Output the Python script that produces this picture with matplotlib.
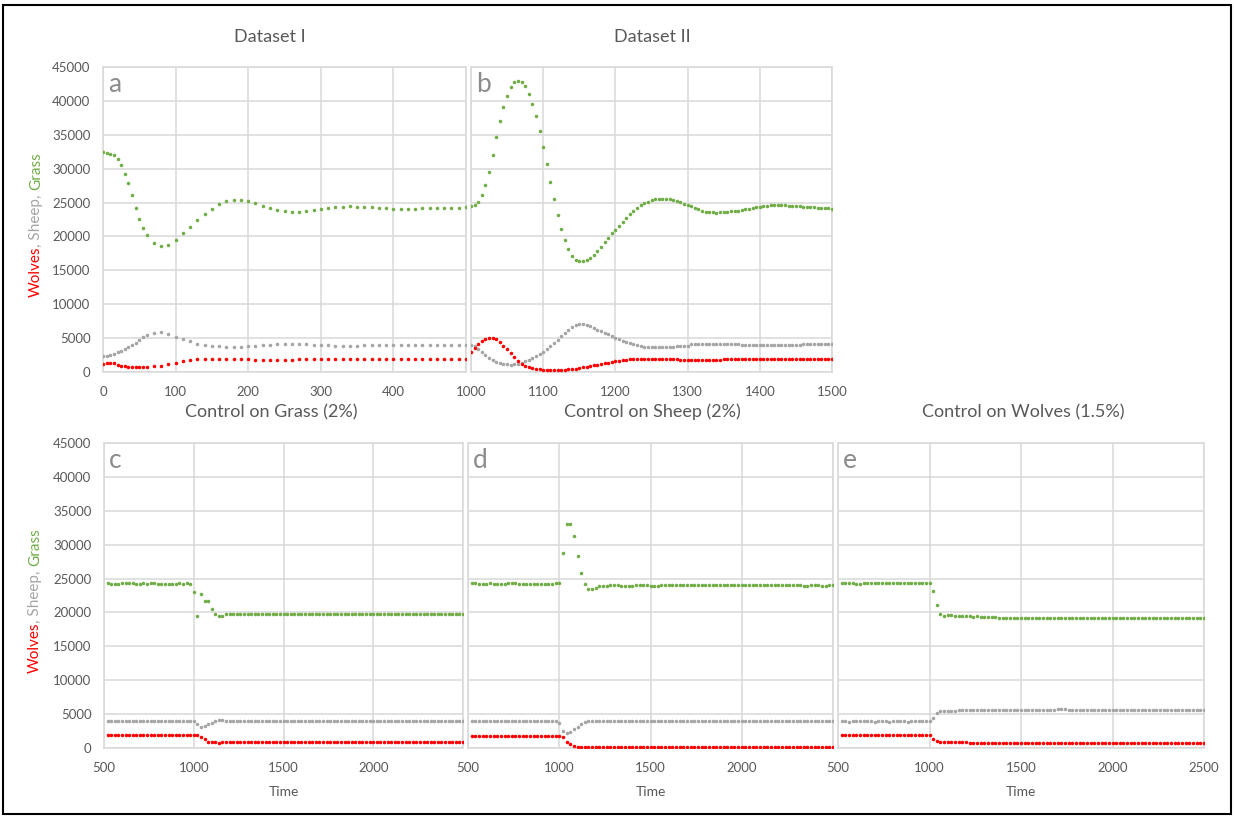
import matplotlib
matplotlib.use("Agg")
import matplotlib.pyplot as plt
from matplotlib.patches import Rectangle

plt.rcParams['font.family'] = ['Lato', 'DejaVu Sans']

# ---------------- data ----------------
# Dataset I (panel a)
t_a = [0, 5, 10, 15, 20, 25, 30, 35, 40, 45, 50, 55, 60,
       70, 80, 90, 100, 110, 120, 130, 140, 150, 160,
       170, 180, 190, 200, 210, 220, 230, 240, 250, 260,
       270, 280, 290, 300, 310, 320, 330, 340, 350, 360,
       370, 380, 390, 400, 410, 420, 430, 440, 450, 460,
       470, 480, 490, 500]
grass_a = [32470, 32320, 32230, 32080, 31490, 30500, 29270, 27900, 26080, 24260, 22630, 21300, 20170,
           19040, 18550, 18800, 19530, 20520, 21400, 22390, 23320, 24060, 24750,
           25190, 25340, 25440, 25190, 24940, 24550, 24260, 23910, 23710, 23670,
           23670, 23760, 23860, 24060, 24210, 24350, 24400, 24450, 24400, 24400,
           24300, 24260, 24160, 24110, 24060, 24060, 24110, 24160, 24160, 24210,
           24210, 24260, 24260, 24300]
sheep_a = [2360, 2410, 2510, 2700, 2900, 3100, 3340, 3640, 3980, 4330, 4720, 5110, 5410,
           5750, 5850, 5610, 5210, 4870, 4520, 4180, 4030, 3880, 3790,
           3740, 3740, 3740, 3790, 3835, 3930, 3980, 4080, 4080, 4080,
           4080, 4080, 3935, 3935, 3935, 3880, 3880, 3880, 3880, 3935,
           3980, 3980, 3980, 3980, 3980, 3980, 3980, 3980, 3980, 3980,
           3980, 3980, 3980, 3980]
wolves_a = [1230, 1380, 1380, 1280, 1080, 930, 835, 740, 740, 740, 740, 740, 740,
            835, 930, 1130, 1380, 1570, 1820, 1920, 1970, 1970, 1970,
            1970, 1970, 1920, 1870, 1770, 1770, 1770, 1770, 1780, 1800,
            1870, 1870, 1870, 1870, 1870, 1870, 1870, 1870, 1870, 1870,
            1870, 1870, 1870, 1870, 1870, 1870, 1870, 1870, 1870, 1870,
            1870, 1870, 1870, 1870]

# Dataset II (panel b), one sample every 5 time steps
t_b = list(range(1000, 1501, 5))
grass_b = [24440, 24580, 25075, 26100, 27580, 29550, 32000, 34660, 37070, 39140,
           40760, 42000, 42780, 42970, 42820, 42190, 41060, 39580, 37760, 35550,
           33140, 30630, 27980, 25470, 23110, 21050, 19420, 18100, 17110, 16520,
           16320, 16320, 16520, 16815, 17260, 17850, 18490, 19175, 19810, 20450,
           20945, 21580, 22125, 22715, 23255, 23700, 24190, 24590, 24880, 25075,
           25370, 25470, 25520, 25570, 25570, 25520, 25320, 25170, 25030, 24830,
           24630, 24440, 24190, 24000, 23800, 23650, 23600, 23600, 23500, 23650,
           23650, 23650, 23700, 23750, 23750, 23900, 24000, 24100, 24190, 24290,
           24340, 24440, 24540, 24590, 24630, 24630, 24630, 24590, 24540, 24540,
           24490, 24440, 24390, 24340, 24340, 24290, 24240, 24190, 24190, 24190,
           24100]
sheep_b = [4030, 3835, 3390, 2900, 2460, 2115, 1820, 1520, 1330, 1180,
           1130, 1080, 1130, 1230, 1380, 1570, 1770, 2065, 2360, 2655,
           2950, 3340, 3785, 4280, 4770, 5260, 5750, 6245, 6640, 6930,
           7030, 7030, 6930, 6740, 6490, 6245, 6000, 5800, 5560, 5310,
           5065, 4820, 4620, 4425, 4230, 4080, 3935, 3835, 3740, 3690,
           3640, 3640, 3640, 3640, 3640, 3640, 3640, 3835, 3835, 3835,
           3835, 4080, 4080, 4080, 4080, 4080, 4080, 4080, 4080, 4080,
           4080, 4080, 4080, 4080, 4080, 3935, 3935, 3935, 3935, 3935,
           3935, 3935, 3935, 3935, 3935, 3935, 3935, 3935, 3935, 3935,
           3935, 3935, 4080, 4080, 4080, 4080, 4080, 4080, 4080, 4080,
           4080]
wolves_b = [2950, 3590, 4180, 4620, 4920, 5060, 5060, 4820, 4380, 3880,
            3340, 2750, 2160, 1620, 1230, 930, 690, 540, 440, 390,
            340, 340, 300, 300, 300, 300, 340, 390, 440, 490,
            590, 690, 790, 890, 980, 1080, 1180, 1280, 1380, 1475,
            1570, 1670, 1770, 1820, 1920, 1970, 1970, 1970, 1970, 1970,
            1970, 1970, 1970, 1970, 1870, 1870, 1870, 1870, 1720, 1720,
            1720, 1720, 1720, 1720, 1720, 1720, 1720, 1720, 1720, 1720,
            1870, 1870, 1870, 1870, 1870, 1870, 1870, 1870, 1870, 1870,
            1870, 1870, 1870, 1870, 1870, 1870, 1870, 1870, 1870, 1870,
            1870, 1870, 1870, 1870, 1870, 1870, 1870, 1870, 1870, 1870,
            1870]

# control runs (panels c, d, e), one sample every 20 time steps
t_ctrl = list(range(520, 2501, 20))

grass_c = [24290, 24190, 24140, 24190, 24290, 24290, 24290, 24290, 24240, 24240,
           24290, 24140, 24290, 24290, 24240, 24190, 24190, 24140, 24190, 24240,
           24290, 24140, 24290, 24240,
           23010, 19520, 22770, 21730, 21630, 20500, 19770, 19470, 19520, 19720,
           19770, 19820, 19820, 19820, 19770, 19770, 19770, 19770, 19820, 19820,
           19770, 19770, 19820, 19820, 19770, 19770, 19770, 19820, 19770, 19770,
           19770, 19770, 19770, 19820, 19770, 19770, 19770, 19770, 19820, 19770,
           19770, 19820, 19770, 19770, 19770, 19770, 19770, 19820, 19770, 19770,
           19720, 19770, 19770, 19820, 19770, 19770, 19820, 19770, 19720, 19770,
           19770, 19820, 19770, 19770, 19770, 19770, 19770, 19770, 19770, 19770,
           19770, 19770, 19770, 19770, 19770, 19820]
sheep_c = [3930, 3930, 3930, 3930, 3930, 3930, 3930, 3930, 3930, 3930,
           3930, 3930, 3930, 3930, 3930, 3930, 3930, 3930, 3930, 3930,
           3930, 3930, 3930, 3930,
           3930, 3540, 3150, 3295, 3540, 3740, 3980, 4080, 4080, 3930,
           3930, 3930, 3930, 3930, 3930, 3930, 3930, 3930, 3930, 3930,
           3930, 3930, 3930, 3930, 3930, 3930, 3930, 3930, 3930, 3930,
           3930, 3930, 3930, 3930, 3930, 3930, 3930, 3930, 3930, 3930,
           3930, 3930, 3930, 3930, 3930, 3930, 3930, 3930, 3930, 3930,
           3930, 3930, 3930, 3930, 3930, 3930, 3930, 3930, 3930, 3930,
           3930, 3930, 3930, 3930, 3930, 3930, 3930, 3930, 3930, 3930,
           3930, 3930, 3930, 3930, 3930, 3930]
wolves_c = [1870, 1870, 1870, 1870, 1870, 1870, 1870, 1870, 1870, 1870,
            1870, 1870, 1870, 1870, 1870, 1870, 1870, 1870, 1870, 1870,
            1870, 1870, 1870, 1870,
            1870, 1870, 1570, 1280, 935, 835, 835, 740, 835, 860,
            860, 860, 860, 860, 860, 860, 860, 860, 860, 860,
            860, 860, 860, 860, 860, 860, 860, 860, 860, 860,
            860, 860, 860, 860, 860, 860, 860, 860, 860, 860,
            860, 860, 860, 860, 860, 860, 860, 860, 860, 860,
            860, 860, 860, 860, 860, 860, 860, 860, 860, 860,
            860, 860, 860, 860, 860, 860, 860, 860, 860, 860,
            860, 860, 860, 860, 860, 860]

grass_d = [24290, 24340, 24190, 24190, 24240, 24290, 24240, 24240, 24190, 24240,
           24290, 24340, 24290, 24240, 24240, 24240, 24240, 24240, 24240, 24240,
           24240, 24240, 24240, 24290,
           24290, 28810, 33090, 33090, 31320, 28370, 25860, 24190, 23500, 23500,
           23650, 23850, 23950,
           23950, 24000, 24040, 24000, 23950, 23950, 23950, 23950, 24000, 24040,
           24040, 24000, 23950, 23950, 23950, 24000, 24000, 24000, 24000, 24000,
           24000, 24000, 24000, 24000, 24000, 24000, 24000, 24000, 24040, 24000,
           24000, 24000, 24000, 24000, 24000, 24000, 24000, 24000, 24000, 24000,
           24000, 24000, 24000, 24000, 24000, 24000, 24000, 24000, 24000, 24040,
           24000, 24000, 24000, 24000, 23950, 23950, 24000, 24000, 24000, 23950,
           23950, 24000, 24000]
sheep_d = [3930, 3930, 3930, 3930, 3930, 3930, 3930, 3930, 3930, 3930,
           3930, 3930, 3930, 3930, 3930, 3930, 3930, 3930, 3930, 3930,
           3930, 3930, 3930, 3930,
           3740, 2560, 2160, 2360, 2750, 3050, 3490, 3835, 4030, 4030, 4030,
           3930, 3930, 3930, 3930, 3930, 3930, 3930, 3930, 3930, 3930,
           3930, 3930, 3930, 3930, 3930, 3930, 3930, 3930, 3930, 3930,
           3930, 3930, 3930, 3930, 3930, 3930, 3930, 3930, 3930, 3930,
           3930, 3930, 3930, 3930, 3930, 3930, 3930, 3930, 3930, 3930,
           3930, 3930, 3930, 3930, 3930, 3930, 3930, 3930, 3930, 3930,
           3930, 3930, 3930, 3930, 3930, 3930, 3930, 3930, 3930, 3930,
           3930, 3930, 3930, 3930, 3930]
wolves_d = [1820, 1820, 1820, 1820, 1820, 1820, 1820, 1820, 1820, 1820,
            1820, 1820, 1820, 1820, 1820, 1820, 1820, 1820, 1820, 1820,
            1820, 1820, 1820, 1820,
            1820, 1570, 935, 540, 295, 150,
            100, 100, 100, 100, 100, 100, 100, 100, 100, 100,
            100, 100, 100, 100, 100, 100, 100, 100, 100, 100,
            100, 100, 100, 100, 100, 100, 100, 100, 100, 100,
            100, 100, 100, 100, 100, 100, 100, 100, 100, 100,
            100, 100, 100, 100, 100, 100, 100, 100, 100, 100,
            100, 100, 100, 100, 100, 100, 100, 100, 100, 100,
            100, 100, 100, 100, 100, 100, 100, 100, 100, 100]

grass_e = [24390, 24390, 24340, 24290, 24240, 24190, 24290, 24390, 24390, 24340,
           24290, 24290, 24290, 24290, 24340, 24290, 24290, 24290, 24290, 24290,
           24340, 24340, 24290, 24290,
           24290, 23210, 21090, 19815, 19520, 19570, 19570, 19520, 19470, 19470,
           19420, 19420, 19370, 19420, 19370, 19320, 19320, 19320, 19275,
           19180, 19180, 19180, 19180, 19180, 19180, 19180, 19180, 19130, 19180,
           19130, 19180, 19180, 19180, 19180, 19130, 19180, 19180, 19130, 19180,
           19180, 19180, 19180, 19180, 19180, 19130, 19180, 19180, 19180, 19180,
           19180, 19180, 19180, 19180, 19180, 19130, 19180, 19180, 19180, 19180,
           19180, 19180, 19180, 19180, 19180, 19180, 19180, 19180, 19180, 19180,
           19180, 19180, 19130, 19130, 19130, 19180, 19130]
sheep_e = [3930, 3930, 3880, 3930, 3980, 3980, 3930, 3930, 3930, 3880,
           3930, 3980, 3930, 3880, 3980, 3980, 3930, 3930, 3880, 3930,
           3930, 3980, 3930, 3930,
           4030, 4475, 5110, 5510, 5510, 5460, 5510,
           5510, 5560, 5560, 5560, 5600, 5600, 5600, 5600, 5650, 5650,
           5650, 5650, 5650, 5650, 5650, 5650, 5650, 5650, 5650, 5650,
           5650, 5650, 5650, 5650, 5650, 5650, 5650, 5650, 5700, 5750,
           5700, 5650, 5650, 5650, 5650, 5650, 5650, 5650, 5650, 5650,
           5650, 5650, 5650, 5650, 5650, 5650, 5650, 5650, 5650, 5650,
           5650, 5650, 5650, 5650, 5650, 5650, 5650, 5650, 5650, 5650,
           5650, 5650, 5650, 5650, 5650, 5650, 5650, 5650, 5650]
wolves_e = [1920, 1970, 1920, 1870, 1920, 1920, 1920, 1920, 1870, 1920,
            1920, 1920, 1920, 1920, 1920, 1920, 1920, 1920, 1920, 1920,
            1920, 1920, 1920, 1920,
            1920, 1330, 1030, 935, 935, 885, 885, 885, 835, 835,
            835, 785, 740,
            690, 690, 690, 690, 690, 690, 690, 690, 690, 690,
            690, 690, 690, 690, 690, 690, 690, 690, 690, 690,
            690, 690, 690, 690, 690, 690, 690, 690, 690, 690,
            690, 690, 690, 690, 690, 690, 690, 690, 690, 690,
            690, 690, 690, 690, 690, 690, 690, 690, 690, 690,
            690, 690, 690, 690, 690, 690, 690, 690, 690, 690,
            690, 690, 690]

# ---------------- style ----------------
W, H = 1234, 817
GREEN = '#70AD47'
GRAY = '#A5A5A5'
RED = '#FF0000'
GRID = '#D9D9D9'
TXT = '#595959'


def fig_rect(x0, y0, x1, y1):
    # pixel box (top-left origin) -> figure fraction [left, bottom, width, height]
    return [x0 / W, 1 - y1 / H, (x1 - x0) / W, (y1 - y0) / H]


def draw_panel(ax, t, grass, sheep, wolves, xlim, xticks, xlabels, letter, ylabels):
    ax.scatter(t, grass, s=6.5, color=GREEN, linewidths=0, zorder=3)
    ax.scatter(t, sheep, s=6.5, color=GRAY, linewidths=0, zorder=3)
    ax.scatter(t, wolves, s=6.5, color=RED, linewidths=0, zorder=3)
    ax.set_xlim(*xlim)
    ax.set_ylim(0, 45000)
    ax.set_xticks(xticks)
    ax.set_xticklabels(xlabels)
    ax.set_yticks(range(0, 45001, 5000))
    if not ylabels:
        ax.set_yticklabels([])
    ax.grid(True, color=GRID, lw=1.1)
    ax.set_axisbelow(True)
    ax.tick_params(length=0, colors=TXT, labelsize=9.5)
    ax.tick_params(axis='y', pad=9)
    ax.tick_params(axis='x', pad=10)
    for sp in ax.spines.values():
        sp.set_color(GRID)
        sp.set_linewidth(1.1)
    ax.text(0.014, 0.985, letter, transform=ax.transAxes, va='top', ha='left',
            fontsize=19, color='#8C8C8C')


fig = plt.figure(figsize=(W / 100, H / 100), dpi=100)

ax_a = fig.add_axes(fig_rect(103, 67, 466, 372))
draw_panel(ax_a, t_a, grass_a, sheep_a, wolves_a, (0, 500),
           [0, 100, 200, 300, 400, 500], ['0', '100', '200', '300', '400', ''], 'a', True)

ax_b = fig.add_axes(fig_rect(471, 67, 832, 372))
draw_panel(ax_b, t_b, grass_b, sheep_b, wolves_b, (1000, 1500),
           [1000, 1100, 1200, 1300, 1400, 1500],
           ['1000', '1100', '1200', '1300', '1400', '1500'], 'b', False)

ctrl_ticks = [500, 1000, 1500, 2000, 2500]
ax_c = fig.add_axes(fig_rect(104, 443, 463, 748))
draw_panel(ax_c, t_ctrl, grass_c, sheep_c, wolves_c, (500, 2500), ctrl_ticks,
           ['500', '1000', '1500', '2000', ''], 'c', True)

ax_d = fig.add_axes(fig_rect(468, 443, 833, 748))
draw_panel(ax_d, t_ctrl, grass_d, sheep_d, wolves_d, (500, 2500), ctrl_ticks,
           ['500', '1000', '1500', '2000', ''], 'd', False)

ax_e = fig.add_axes(fig_rect(838, 443, 1204, 748))
draw_panel(ax_e, t_ctrl, grass_e, sheep_e, wolves_e, (500, 2500), ctrl_ticks,
           ['500', '1000', '1500', '2000', '2500'], 'e', False)

for ax in (ax_c, ax_d, ax_e):
    ax.set_xlabel('Time', color=TXT, fontsize=10, labelpad=9)

# panel titles
titles = [('Dataset I', 270, 37), ('Dataset II', 652, 37),
          ('Control on Grass (2%)', 271, 412), ('Control on Sheep (2%)', 652, 412),
          ('Control on Wolves (1.5%)', 1023, 412)]
for s, x, y in titles:
    fig.text(x / W, 1 - y / H, s, ha='center', va='center', fontsize=13, color=TXT)

# multi-coloured y label: Wolves (red), Sheep (gray), Grass (green)
renderer = fig.canvas.get_renderer()
probe = fig.text(0, 0, 'x x', fontsize=11)
probe2 = fig.text(0, 0, 'xx', fontsize=11)
space_px = probe.get_window_extent(renderer).width - probe2.get_window_extent(renderer).width
probe.remove()
probe2.remove()

for xc, yc in [(36, 225), (35, 601)]:
    parts = [('Wolves', RED, 0), (', Sheep,', GRAY, 0), ('Grass', GREEN, space_px)]
    texts = []
    for s, c, gap in parts:
        tx = fig.text(xc / W, 0, s, color=c, rotation=90, ha='center', va='bottom', fontsize=11)
        texts.append((tx, gap))
    sizes = [tx.get_window_extent(renderer).height for tx, gap in texts]
    total = sum(sizes) + sum(g for _, g in texts)
    y0 = (H - yc) - total / 2
    for (tx, gap), hgt in zip(texts, sizes):
        y0 += gap
        tx.set_y(y0 / H)
        y0 += hgt

# black frame round the whole figure
fig.add_artist(Rectangle((3 / W, 3 / H), 1228 / W, 809 / H, transform=fig.transFigure,
                         fill=False, lw=1.5, ec='black'))

fig.savefig('out.png', dpi=100)
